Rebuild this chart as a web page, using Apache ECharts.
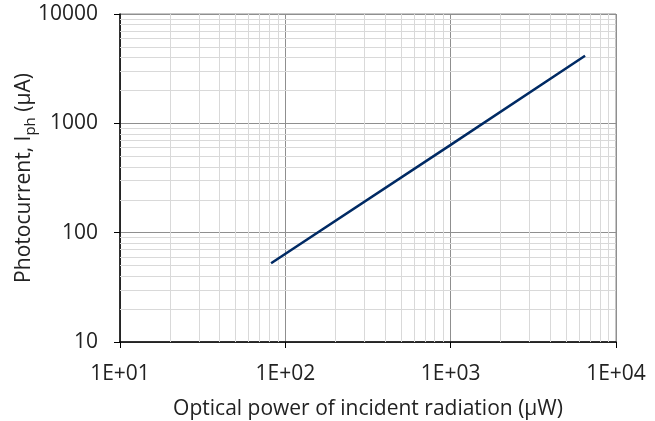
<!DOCTYPE html>
<html>
<head>
<meta charset="utf-8">
<script src="https://cdn.jsdelivr.net/npm/echarts@6/dist/echarts.min.js"></script>
<style>
  html, body { margin: 0; padding: 0; background: #fff; }
  #chart { width: 655px; height: 421px; }
</style>
</head>
<body>
<div id="chart"></div>
<script>
// optical power (µW) vs photocurrent (µA)
const powerUW = [82, 1000, 6500]
const currentUA = [52.5, 635, 4150]

// minor grid positions (2..9 in each decade)
const minorX = [20, 30, 40, 50, 60, 70, 80, 90, 200, 300, 400, 500, 600, 700, 800, 900, 2000, 3000, 4000, 5000, 6000, 7000, 8000, 9000]
const minorY = [20, 30, 40, 50, 60, 70, 80, 90, 200, 300, 400, 500, 600, 700, 800, 900, 2000, 3000, 4000, 5000, 6000, 7000, 8000, 9000]

const fontFamily = '"Open Sans", sans-serif'

let chart = echarts.init(document.getElementById('chart'))

let lineData = []
for (let i = 0; i < powerUW.length; i++) {
  lineData.push([powerUW[i], currentUA[i]])
}

let minorLines = []
for (let i = 0; i < minorX.length; i++) {
  minorLines.push({ xAxis: minorX[i] })
}
for (let i = 0; i < minorY.length; i++) {
  minorLines.push({ yAxis: minorY[i] })
}

chart.setOption({
  animation: false,
  textStyle: { fontFamily: fontFamily },
  grid: {
    left: 120,
    right: 39,
    top: 14,
    bottom: 79,
    outerBoundsMode: 'none',
    containLabel: false,
    show: true,
    borderColor: '#8f8f8f',
    borderWidth: 1
  },
  xAxis: {
    type: 'log',
    logBase: 10,
    min: 10,
    max: 10000,
    name: 'Optical power of incident radiation (µW)',
    nameLocation: 'middle',
    nameGap: 57,
    nameMoveOverlap: false,
    nameTextStyle: { fontSize: 21, color: '#222', fontFamily: fontFamily },
    axisLine: { lineStyle: { color: '#000', width: 1.5 } },
    axisTick: { show: true, length: 6, lineStyle: { color: '#000' } },
    axisLabel: {
      fontSize: 21,
      color: '#222',
      margin: 22,
      formatter: function (v) {
        let e = Math.round(Math.log10(v))
        return '1E+' + (e < 10 ? '0' + e : e)
      }
    },
    splitLine: { show: true, lineStyle: { color: '#8f8f8f', width: 1 } }
  },
  yAxis: {
    type: 'log',
    logBase: 10,
    min: 10,
    max: 10000,
    name: '{a|Photocurrent, I}{s|ph}{a| (µA)}',
    nameLocation: 'middle',
    nameGap: 82,
    nameMoveOverlap: false,
    nameTextStyle: {
      rich: {
        a: { fontSize: 21, color: '#222', fontFamily: fontFamily, lineHeight: 28 },
        s: { fontSize: 15, color: '#222', fontFamily: fontFamily, lineHeight: 14, verticalAlign: 'bottom' }
      }
    },
    axisLine: { lineStyle: { color: '#000', width: 1.5 } },
    axisTick: { show: true, length: 6, lineStyle: { color: '#000' } },
    axisLabel: {
      fontSize: 21,
      color: '#222',
      margin: 22,
      formatter: function (v) {
        return String(Math.round(v))
      }
    },
    splitLine: { show: true, lineStyle: { color: '#8f8f8f', width: 1 } }
  },
  series: [
    {
      type: 'line',
      z: 1,
      silent: true,
      data: [],
      markLine: {
        silent: true,
        symbol: 'none',
        label: { show: false },
        lineStyle: { color: '#d9d9d9', width: 1, type: 'solid' },
        emphasis: { disabled: true },
        data: minorLines
      }
    },
    {
      type: 'line',
      z: 5,
      data: lineData,
      showSymbol: false,
      symbol: 'none',
      lineStyle: { color: '#002a64', width: 2.5 }
    }
  ]
})
</script>
</body>
</html>
